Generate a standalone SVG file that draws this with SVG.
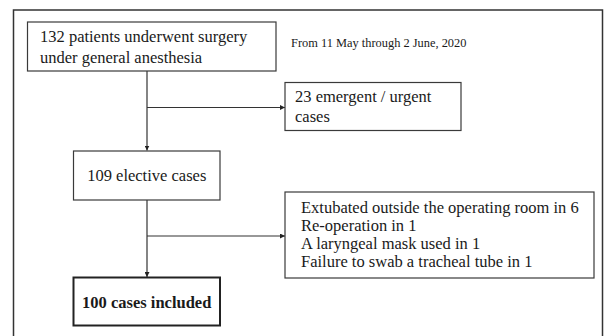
<svg xmlns="http://www.w3.org/2000/svg" width="606" height="336" viewBox="0 0 606 336">
<defs>
<style>
.box{fill:#fff;stroke:#3a3a3a;stroke-width:1.2}
.bold{fill:#fff;stroke:#222;stroke-width:2}
.t{font-family:"Liberation Serif","Times New Roman",serif;font-size:16.5px;fill:#1a1a1a}
.s{font-family:"Liberation Serif","Times New Roman",serif;font-size:12.4px;fill:#1a1a1a}
.b{font-family:"Liberation Serif","Times New Roman",serif;font-size:16.5px;font-weight:bold;fill:#1a1a1a}
.c{fill:none;stroke:#333;stroke-width:1.2}
</style>
<marker id="ah" viewBox="0 0 10 10" refX="10" refY="5" markerWidth="5" markerHeight="5" markerUnits="userSpaceOnUse" orient="auto">
<path d="M0,0 L10,5 L0,10 z" fill="#222"/>
</marker>
</defs>
<rect x="13.5" y="10" width="589" height="340" fill="#fff" stroke="#333" stroke-width="1.5"/>
<g id="connectors">
<path class="c" d="M147,71 V150.5" marker-end="url(#ah)"/>
<path class="c" d="M147,107.5 H285" marker-end="url(#ah)"/>
<path class="c" d="M147,200 V277" marker-end="url(#ah)"/>
<path class="c" d="M147,236 H285" marker-end="url(#ah)"/>
</g>
<g id="n1">
<rect class="box" x="27.5" y="22" width="248.5" height="49"/>
<text class="t" x="40" y="42">132 patients underwent surgery</text>
<text class="t" x="40" y="63">under general anesthesia</text>
</g>
<g id="date">
<text class="s" x="291" y="47">From 11 May through 2 June, 2020</text>
</g>
<g id="n2">
<rect class="box" x="285" y="82.5" width="176" height="48"/>
<text class="t" x="295" y="102">23 emergent / urgent</text>
<text class="t" x="295" y="122">cases</text>
</g>
<g id="n3">
<rect class="box" x="73.5" y="151" width="146.5" height="49"/>
<text class="t" x="146.75" y="181" text-anchor="middle">109 elective cases</text>
</g>
<g id="n4">
<rect class="box" x="285" y="192" width="309" height="86"/>
<text class="t" x="301" y="213">Extubated outside the operating room in 6</text>
<text class="t" x="301" y="231">Re-operation in 1</text>
<text class="t" x="301" y="249">A laryngeal mask used in 1</text>
<text class="t" x="301" y="267">Failure to swab a tracheal tube in 1</text>
</g>
<g id="n5">
<rect class="bold" x="73.5" y="277.5" width="146.5" height="48"/>
<text class="b" x="146.75" y="308" text-anchor="middle">100 cases included</text>
</g>
</svg>
